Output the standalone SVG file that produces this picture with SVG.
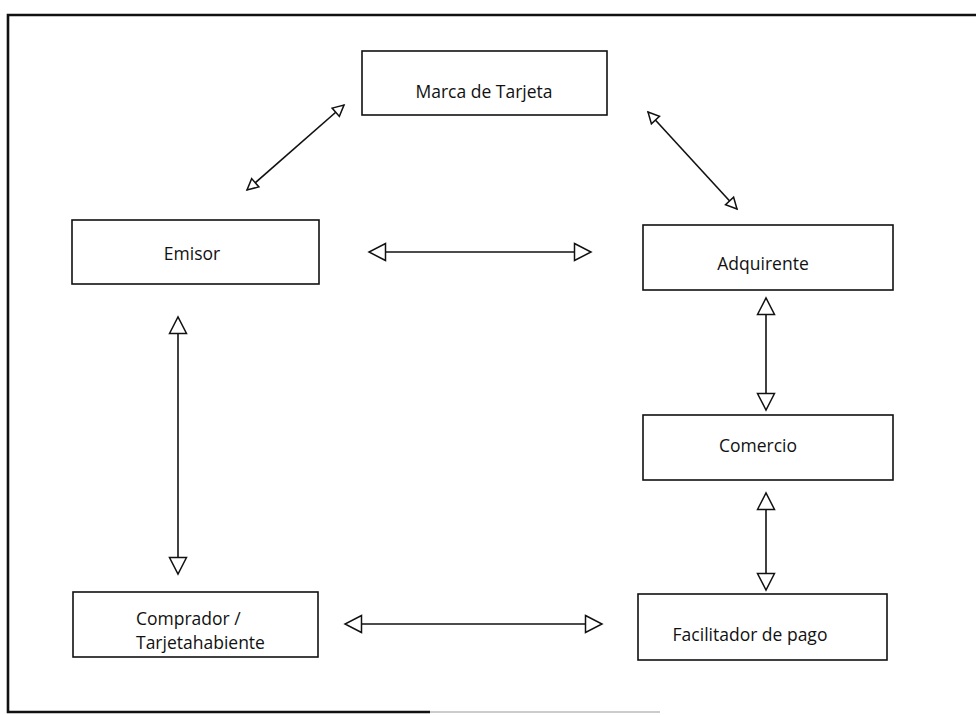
<svg xmlns="http://www.w3.org/2000/svg" width="976" height="715" viewBox="0 0 976 715">
<style>
.box{fill:#fff;stroke:#111;stroke-width:1.6}
.lbl{font-family:"Open Sans","DejaVu Sans",sans-serif;font-size:17.5px;fill:#111;text-anchor:middle;dominant-baseline:central}
.con{stroke:#111;stroke-width:1.6;fill:none}
.big{marker-start:url(#tri);marker-end:url(#tri)}
.sml{marker-start:url(#tris);marker-end:url(#tris)}
</style>
<defs>
<marker id="tri" markerUnits="userSpaceOnUse" markerWidth="20" markerHeight="20" viewBox="0 0 20 20" refX="18" refY="10" orient="auto-start-reverse">
<path d="M1.5,1.5 L18,10 L1.5,18.5 Z" fill="#fff" stroke="#111" stroke-width="1.5"/>
</marker>
<marker id="tris" markerUnits="userSpaceOnUse" markerWidth="14" markerHeight="14" viewBox="0 0 14 14" refX="12.5" refY="7" orient="auto-start-reverse">
<path d="M1.5,1.5 L12.5,7 L1.5,12.5 Z" fill="#fff" stroke="#111" stroke-width="1.5"/>
</marker>
</defs>
<rect width="976" height="715" fill="#fff"/>
<g id="frame">
<path d="M980,15 L8,15 L8,712 L430,712" fill="none" stroke="#111" stroke-width="2.6"/>
<path d="M430,712 L660,712" fill="none" stroke="#bbb" stroke-width="1.5"/>
</g>
<g id="connectors">
<line class="con sml" x1="344" y1="105" x2="247" y2="190"/>
<line class="con sml" x1="648" y1="112" x2="737" y2="209"/>
<line class="con big" x1="369" y1="252" x2="591" y2="252"/>
<line class="con big" x1="178" y1="317" x2="178" y2="574"/>
<line class="con big" x1="766" y1="298" x2="766" y2="410"/>
<line class="con big" x1="766" y1="493" x2="766" y2="590"/>
<line class="con big" x1="345" y1="624" x2="602" y2="624"/>
</g>
<g id="marca">
<rect class="box" x="362" y="51" width="245" height="64"/>
<text class="lbl" x="484" y="91">Marca de Tarjeta</text>
</g>
<g id="emisor">
<rect class="box" x="72" y="220" width="247" height="64"/>
<text class="lbl" x="192" y="253">Emisor</text>
</g>
<g id="adquirente">
<rect class="box" x="643" y="225" width="250" height="65"/>
<text class="lbl" x="763" y="263">Adquirente</text>
</g>
<g id="comercio">
<rect class="box" x="643" y="415" width="250" height="65"/>
<text class="lbl" x="758" y="445">Comercio</text>
</g>
<g id="comprador">
<rect class="box" x="73" y="592" width="245" height="65"/>
<text class="lbl" x="136" y="618" style="text-anchor:start">Comprador /</text>
<text class="lbl" x="136" y="642" style="text-anchor:start">Tarjetahabiente</text>
</g>
<g id="facilitador">
<rect class="box" x="638" y="594" width="249" height="66"/>
<text class="lbl" x="750" y="634">Facilitador de pago</text>
</g>
</svg>
